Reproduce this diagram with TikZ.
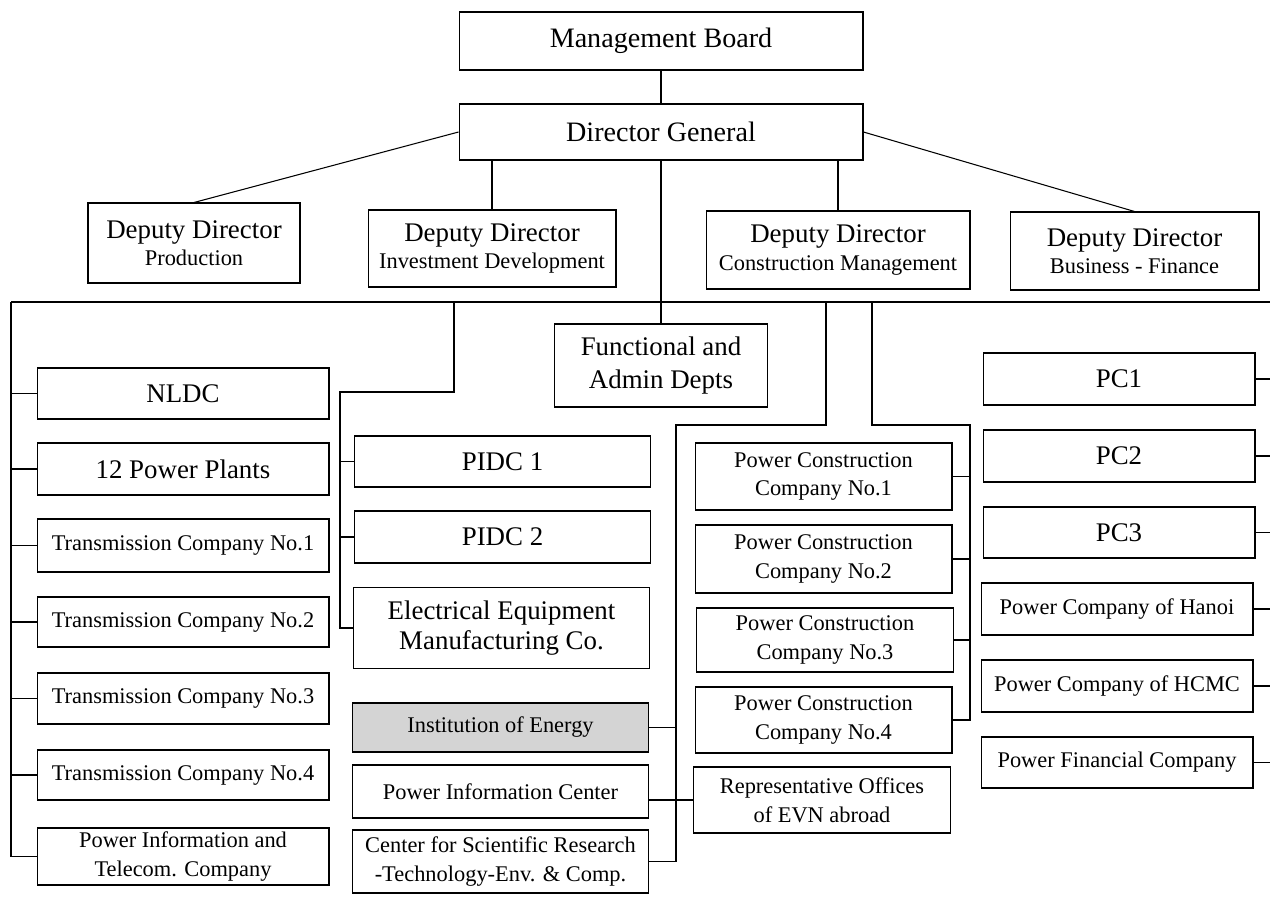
\documentclass[tikz,border=0pt]{standalone}
\usepackage{fontspec}
\setmainfont{Liberation Serif}
\usepackage{tikz}
\usetikzlibrary{positioning}

\tikzset{
	unit/.style = {draw, line width=0.6pt, inner sep=0pt, align=center},
	big/.style = {font=\fontsize{15.3}{18.5}\selectfont},
	small/.style = {font=\fontsize{12.75}{16.4}\selectfont},
	link/.style = {line width=0.6pt},
	lcol/.style = {minimum width=5.84cm},
	mcol/.style = {minimum width=5.92cm},
	ccol/.style = {minimum width=5.14cm},
	rcol/.style = {minimum width=5.44cm}
}

\begin{document}
\begin{tikzpicture}[x=0.02cm, y=-0.02cm]
	\useasboundingbox (0,0) rectangle (1270,896);
	
	% top of the chart
	\node [unit, font=\fontsize{16}{19}\selectfont, minimum width=8.08cm, minimum height=1.16cm] (mb) at (661,41) {Management Board};
	\node [unit, font=\fontsize{16}{19}\selectfont, minimum width=8.08cm, minimum height=1.12cm] (dg) at (661,132) {Director General};
	
	\node [unit, big, minimum width=4.24cm, minimum height=1.6cm] (ddp) at (194,243)
		{Deputy Director\\[-3pt]{\fontsize{12.75}{15}\selectfont Production}};
	\node [unit, big, minimum width=4.96cm, minimum height=1.54cm] (ddi) at (492,248.5)
		{Deputy Director\\[-3pt]{\fontsize{12.75}{15}\selectfont Investment Development}};
	\node [unit, big, minimum width=5.28cm, minimum height=1.56cm] (ddc) at (838,250)
		{Deputy Director\\[-3pt]{\fontsize{12.75}{15}\selectfont Construction Management}};
	\node [unit, big, minimum width=4.98cm, minimum height=1.56cm] (ddb) at (1134.5,251)
		{Deputy Director\\[-3pt]{\fontsize{12.75}{15}\selectfont Business - Finance}};
	
	\node [unit, big, minimum width=4.26cm, minimum height=1.66cm] (fad) at (661,365.5) {Functional and\\Admin Depts};
	
	% left column
	\node [unit, big, lcol, minimum height=1.02cm] (nldc) at (183,393.5) {NLDC};
	\node [unit, big, lcol, minimum height=1.04cm] (pp) at (183,469) {12 Power Plants};
	\node [unit, small, lcol, minimum height=1.06cm] (tc1) at (183,545.5) {Transmission Company No.1};
	\node [unit, small, lcol, minimum height=1.0cm] (tc2) at (183,622) {Transmission Company No.2};
	\node [unit, small, lcol, minimum height=1.02cm] (tc3) at (183,698.5) {Transmission Company No.3};
	\node [unit, small, lcol, minimum height=1.0cm] (tc4) at (183,775) {Transmission Company No.4};
	\node [unit, small, lcol, minimum height=1.14cm, font=\fontsize{12.75}{17}\selectfont] (pitc) at (183,856.5) {Power Information and\\Telecom. Company};
	
	% middle column
	\node [unit, big, mcol, minimum height=1.02cm] (pidc1) at (502.5,461.5) {PIDC 1};
	\node [unit, big, mcol, minimum height=1.04cm] (pidc2) at (502.5,537) {PIDC 2};
	\node [unit, big, mcol, minimum height=1.62cm, font=\fontsize{15.3}{17}\selectfont] (eemc) at (501.5,628) {Electrical Equipment\\Manufacturing Co.};
	\node [unit, small, mcol, minimum height=0.98cm, fill=black!17] (ioe) at (500.5,727.5) {Institution of Energy};
	\node [unit, small, mcol, minimum height=1.06cm] (pic) at (500.5,791.5) {Power Information Center};
	\node [unit, small, mcol, minimum height=1.26cm] (csr) at (500.5,861.5) {Center for Scientific Research\\-Technology-Env. \& Comp.};
	
	% construction companies
	\node [unit, small, ccol, minimum height=1.34cm] (pcc1) at (823.5,476.5) {Power Construction\\Company No.1};
	\node [unit, small, ccol, minimum height=1.36cm] (pcc2) at (823.5,559) {Power Construction\\Company No.2};
	\node [unit, small, ccol, minimum height=1.28cm] (pcc3) at (825,640) {Power Construction\\Company No.3};
	\node [unit, small, ccol, minimum height=1.32cm] (pcc4) at (823.5,720) {Power Construction\\Company No.4};
	\node [unit, small, ccol, minimum height=1.32cm] (rep) at (822,800) {Representative Offices\\of EVN abroad};
	
	% right column
	\node [unit, big, rcol, minimum height=1.04cm] (pc1) at (1119,379) {PC1};
	\node [unit, big, rcol, minimum height=1.04cm] (pc2) at (1119,456) {PC2};
	\node [unit, big, rcol, minimum height=1.02cm] (pc3) at (1119,532.5) {PC3};
	\node [unit, small, rcol, minimum height=1.04cm] (hanoi) at (1117,609) {Power Company of Hanoi};
	\node [unit, small, rcol, minimum height=1.04cm] (hcmc) at (1117,686) {Power Company of HCMC};
	\node [unit, small, rcol, minimum height=1.02cm] (pfc) at (1117,762.5) {Power Financial Company};
	
	% bus and branch points
	\coordinate (busL) at (11,302);
	\coordinate (busR) at (1270,302);
	\coordinate (jInv) at (454,302);
	\coordinate (kInv) at (340,392);
	\coordinate (jLow) at (826,302);
	\coordinate (kLow) at (676,425);
	\coordinate (jCon) at (872,302);
	\coordinate (kCon) at (970,425);
	
	\draw [link] (mb) -- (dg);
	\draw [link] (dg.west) -- (ddp.north);
	\draw [link] (ddi.north) -- (ddi.north |- dg.south);
	\draw [link] (ddc.north) -- (ddc.north |- dg.south);
	\draw [link] (dg.east) -- (ddb.north);
	\draw [link] (busL) -- (busR);
	\draw [link] (dg) -- (fad);
	
	\draw [link] (busL) |- (pitc.west);
	\foreach \n in {nldc, pp, tc1, tc2, tc3, tc4}
		\draw [link] (\n.west) -- (\n.west -| busL);
	
	\draw [link] (jInv) |- (kInv) |- (eemc.west);
	\foreach \n in {pidc1, pidc2}
		\draw [link] (\n.west) -- (\n.west -| kInv);
	
	\draw [link] (jLow) |- (kLow) |- (csr.east);
	\draw [link] (ioe.east) -- (ioe.east -| kLow);
	\draw [link] (rep.west) -- (rep.west -| pic.east);
	
	\draw [link] (jCon) |- (kCon) |- (pcc4.east);
	\foreach \n in {pcc1, pcc2, pcc3}
		\draw [link] (\n.east) -- (\n.east -| kCon);
	
	\foreach \n in {pc1, pc2, pc3, hanoi, hcmc, pfc}
		\draw [link] (\n.east) -- (\n.east -| busR);
\end{tikzpicture}
\end{document}
